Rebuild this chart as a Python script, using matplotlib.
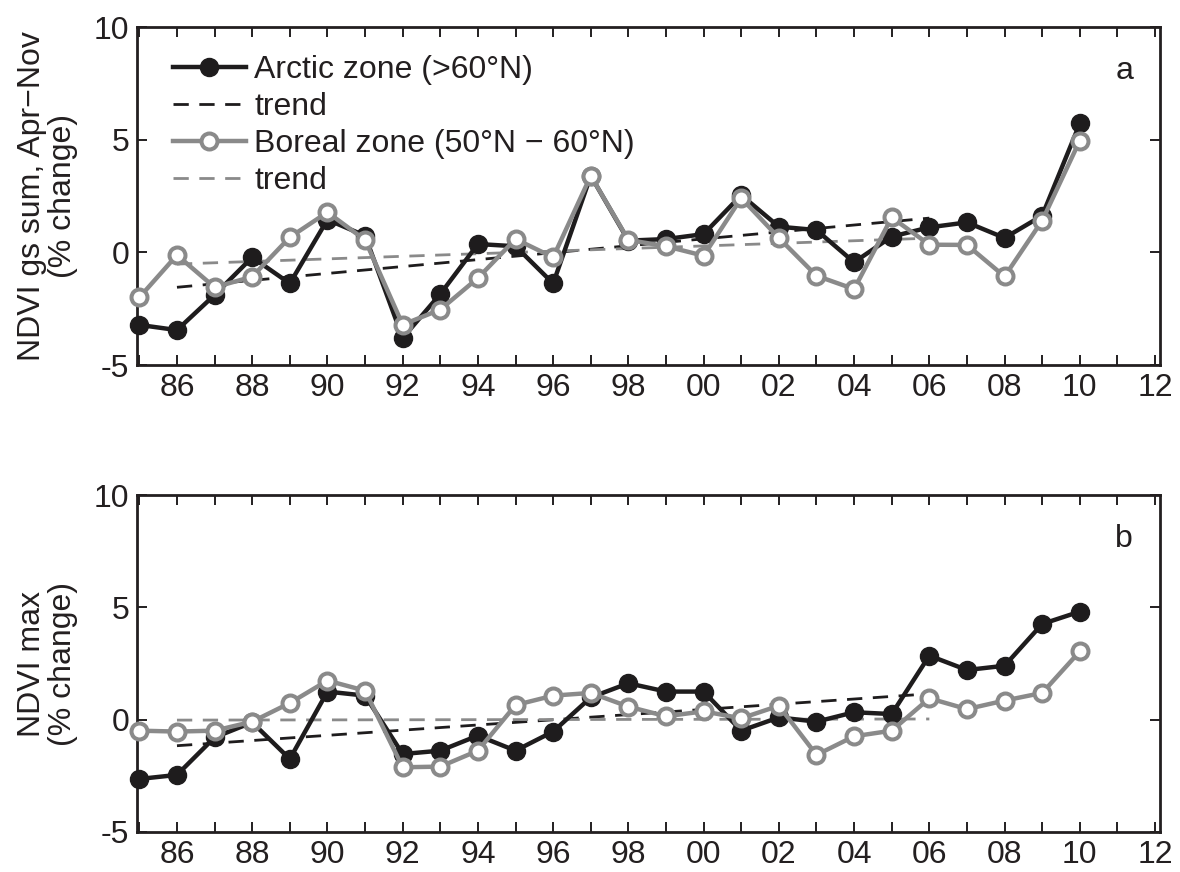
import matplotlib
matplotlib.use("Agg")
import matplotlib.pyplot as plt
from matplotlib.ticker import FixedLocator, NullFormatter

plt.rcParams['font.family'] = ['Liberation Sans', 'DejaVu Sans']
plt.rcParams['axes.unicode_minus'] = False

years = list(range(1985, 2011))

# Panel a: NDVI gs sum, Apr-Nov (% change)
arctic_a = [-3.22, -3.45, -1.89, -0.22, -1.38, 1.45, 0.74, -3.80, -1.85, 0.37,
            0.27, -1.38, 3.40, 0.52, 0.59, 0.81, 2.54, 1.14, 0.99, -0.44,
            0.70, 1.11, 1.33, 0.64, 1.63, 5.72]
boreal_a = [-2.00, -0.12, -1.55, -1.08, 0.67, 1.78, 0.55, -3.21, -2.54, -1.14,
            0.59, -0.22, 3.40, 0.55, 0.27, -0.15, 2.41, 0.64, -1.04, -1.63,
            1.55, 0.34, 0.33, -1.07, 1.41, 4.96]

# Panel b: NDVI max (% change)
arctic_b = [-2.64, -2.46, -0.79, -0.12, -1.75, 1.25, 1.07, -1.53, -1.38, -0.71,
            -1.38, -0.53, 0.99, 1.62, 1.25, 1.25, -0.49, 0.10, -0.09, 0.33,
            0.25, 2.85, 2.21, 2.40, 4.26, 4.81]
boreal_b = [-0.49, -0.53, -0.49, -0.09, 0.74, 1.74, 1.29, -2.12, -2.09, -1.38,
            0.65, 1.07, 1.19, 0.58, 0.15, 0.37, 0.06, 0.62, -1.57, -0.74,
            -0.49, 0.95, 0.47, 0.85, 1.19, 3.04]

# Trend lines (endpoints)
trend_years = [1986, 2006]
arctic_trend_a = [-1.55, 1.52]
boreal_trend_a = [-0.52, 0.63]
arctic_trend_b = [-1.16, 1.15]
boreal_trend_b = [-0.02, 0.03]

xtick_major = list(range(1986, 2013, 2))
xtick_labels = ['%02d' % (y % 100) for y in xtick_major]
xtick_minor = list(range(1985, 2013, 2))
ytick_vals = [-5, 0, 5, 10]
ytick_labels = ['-5', '0', '5', '10']

BLACK = '#1e1c1d'
GREY = '#8a8a8a'
AXC = '#231f20'
FS = 23
DASH = (0, (5.5, 3.8))

fig = plt.figure(figsize=(11.8, 8.72), dpi=100)
ax_a = fig.add_axes([0.1165, 0.5814, 0.8665, 0.3876])
ax_b = fig.add_axes([0.1165, 0.0459, 0.8665, 0.3864])


def draw(ax, arc, bor, arc_tr, bor_tr, ylabel, letter, legend):
    ax.plot(trend_years, arc_tr, color=BLACK, lw=2.0, linestyle=DASH,
            label='trend', zorder=2)
    ax.plot(trend_years, bor_tr, color=GREY, lw=2.0, linestyle=DASH,
            label='trend', zorder=2)
    ax.plot(years, arc, color=BLACK, lw=3.2, marker='o', ms=13,
            mfc=BLACK, mec=BLACK, clip_on=False, zorder=3,
            label='Arctic zone (>60°N)')
    ax.plot(years, bor, color=GREY, lw=3.2, marker='o', ms=11.5,
            mfc='white', mec=GREY, mew=2.9, clip_on=False, zorder=4,
            label='Boreal zone (50°N \u2212 60°N)')
    ax.set_xlim(1984.95, 2012.13)
    ax.set_ylim(-5, 10)
    ax.xaxis.set_major_locator(FixedLocator(xtick_major))
    ax.xaxis.set_minor_locator(FixedLocator(xtick_minor))
    ax.set_xticklabels(xtick_labels)
    ax.xaxis.set_minor_formatter(NullFormatter())
    ax.set_yticks(ytick_vals)
    ax.set_yticklabels(ytick_labels)
    ax.tick_params(which='both', direction='in', top=True, right=True,
                   length=7, width=1.4, color=AXC, labelsize=FS, pad=6,
                   labelcolor=AXC)
    for s in ax.spines.values():
        s.set_linewidth(2.0)
        s.set_color(AXC)
    ax.set_ylabel(ylabel, fontsize=FS, color=AXC, labelpad=11, linespacing=1.05)
    ax.text(0.965, 0.87, letter, transform=ax.transAxes, fontsize=FS,
            ha='center', va='center', color=AXC)
    if legend:
        h = ax.get_lines()
        handles = [h[2], h[0], h[3], h[1]]
        labels = [x.get_label() for x in handles]
        ax.legend(handles, labels, loc='upper left', frameon=False,
                  fontsize=FS, numpoints=1, handlelength=2.3,
                  handletextpad=0.25, labelspacing=0.22,
                  borderaxespad=0.0, bbox_to_anchor=(0.022, 0.955),
                  labelcolor=AXC)


draw(ax_a, arctic_a, boreal_a, arctic_trend_a, boreal_trend_a,
     'NDVI gs sum, Apr\u2212Nov\n(% change)', 'a', True)
draw(ax_b, arctic_b, boreal_b, arctic_trend_b, boreal_trend_b,
     'NDVI max\n(% change)', 'b', False)

fig.savefig('out.png', dpi=100)
